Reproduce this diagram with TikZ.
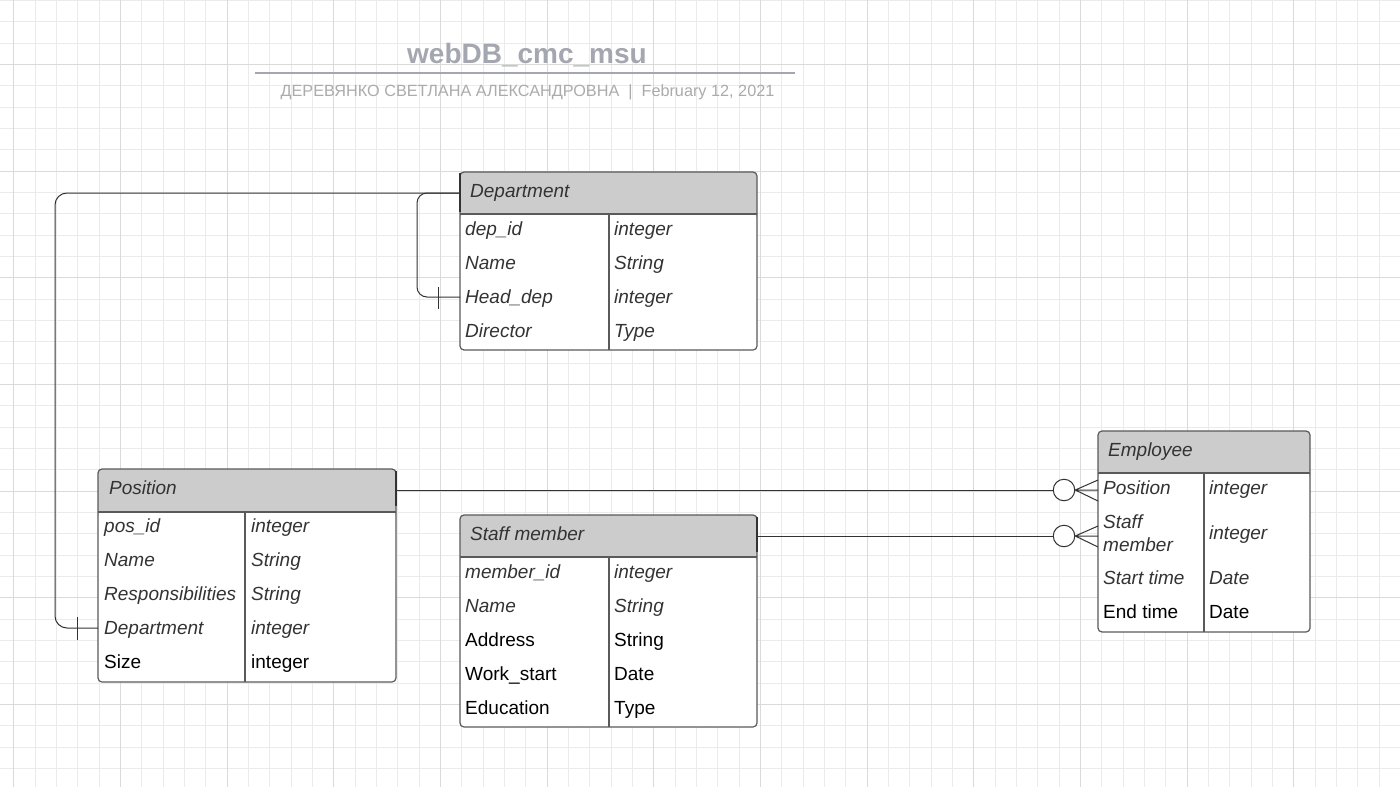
\documentclass[tikz,border=0pt]{standalone}
\usepackage{fontspec}
\setmainfont{Liberation Sans}
\definecolor{gridminor}{HTML}{EBEBEB}
\definecolor{gridmajor}{HTML}{DADADA}
\definecolor{headgray}{HTML}{CCCCCC}
\definecolor{framegray}{HTML}{5A5A5A}
\definecolor{txtgray}{HTML}{333333}
\definecolor{titlegray}{HTML}{A4A7AF}
\definecolor{subgray}{HTML}{ABABAB}
\tikzset{
	fld/.style={anchor=west, inner sep=0pt, text height=13.6pt, text depth=0pt, font=\fontsize{19}{23}\selectfont\itshape, text=txtgray},
	fldr/.style={fld, font=\fontsize{19}{23}\selectfont, text=black},
	frame/.style={draw=framegray, line width=1.2pt, rounded corners=4pt},
	conn/.style={draw=txtgray, line width=1pt},
	zero/.style={circle, draw=txtgray, fill=white, line width=1pt, minimum size=21.5pt, inner sep=0pt},
	endbar/.style={draw=txtgray, line width=2.2pt},
}
\begin{document}
\begin{tikzpicture}[x=1pt, y=-1pt]
	\useasboundingbox (0,0) rectangle (1400,787);
	\fill[white] (0,0) rectangle (1400,787);
	% grid
	\foreach \i in {0,...,65} \draw[gridminor, line width=1pt] ({round(13.333+21.333*\i)+0.5},0) -- ({round(13.333+21.333*\i)+0.5},787);
	\foreach \i in {0,...,36} \draw[gridminor, line width=1pt] (0,{round(21.333*\i)+0.5}) -- (1400,{round(21.333*\i)+0.5});
	\foreach \i in {0,...,13} \draw[gridmajor, line width=1pt] ({round(13.333+106.667*\i)+0.5},0) -- ({round(13.333+106.667*\i)+0.5},787);
	\foreach \i in {0,...,6} \draw[gridmajor, line width=1pt] (0,{round(64+106.667*\i)+0.5}) -- (1400,{round(64+106.667*\i)+0.5});

	% title
	\node[anchor=base, inner sep=0pt, font=\fontsize{28}{30}\selectfont\bfseries, text=titlegray] (title) at (527,63) {webDB\_cmc\_msu};
	\draw[titlegray, line width=2pt] (255,73) -- (795,73);
	\node[anchor=base, inner sep=0pt, font=\fontsize{16.25}{18}\selectfont, text=subgray] (sub) at (527.5,96) {ДЕРЕВЯНКО СВЕТЛАНА АЛЕКСАНДРОВНА\hspace{9pt}|\hspace{9pt}February 12, 2021};

	% Department
	\fill[white, rounded corners=4pt] (460,172) rectangle (757,350);
	\fill[headgray, rounded corners=4pt] (460,172) rectangle (757,220);
	\fill[white] (461,214) rectangle (756,222);
	\draw[frame] (460,172) rectangle (757,350);
	\draw[framegray, line width=1.2pt] (460,214) -- (757,214) (609,214) -- (609,350);
	\node[fld] (dep) at (470,191) {Department};
	\node[fld] (dep1) at (465,229) {dep\_id};
	\node[fld] (dep1t) at (614,229) {integer};
	\node[fld] (dep2) at (465,263) {Name};
	\node[fld] (dep2t) at (614,263) {String};
	\node[fld] (dep3) at (465,297) {Head\_dep};
	\node[fld] (dep3t) at (614,297) {integer};
	\node[fld] (dep4) at (465,331) {Director};
	\node[fld] (dep4t) at (614,331) {Type};

	% Position
	\fill[white, rounded corners=4pt] (98,469) rectangle (396,682);
	\fill[headgray, rounded corners=4pt] (98,469) rectangle (396,518);
	\fill[white] (99,512) rectangle (395,520);
	\draw[frame] (98,469) rectangle (396,682);
	\draw[framegray, line width=1.2pt] (98,512) -- (396,512) (245,512) -- (245,682);
	\node[fld] (pos) at (109,488) {Position};
	\node[fld] (pos1) at (104,526) {pos\_id};
	\node[fld] (pos1t) at (251,526) {integer};
	\node[fld] (pos2) at (104,560) {Name};
	\node[fld] (pos2t) at (251,560) {String};
	\node[fld] (pos3) at (104,594) {Responsibilities};
	\node[fld] (pos3t) at (251,594) {String};
	\node[fld] (pos4) at (104,628) {Department};
	\node[fld] (pos4t) at (251,628) {integer};
	\node[fldr] (pos5) at (104,662) {Size};
	\node[fldr] (pos5t) at (251,662) {integer};

	% Staff member
	\fill[white, rounded corners=4pt] (460,515) rectangle (757,727);
	\fill[headgray, rounded corners=4pt] (460,515) rectangle (757,563);
	\fill[white] (461,557) rectangle (756,565);
	\draw[frame] (460,515) rectangle (757,727);
	\draw[framegray, line width=1.2pt] (460,557) -- (757,557) (609,557) -- (609,727);
	\node[fld] (stf) at (470,534) {Staff member};
	\node[fld] (stf1) at (465,572) {member\_id};
	\node[fld] (stf1t) at (614,572) {integer};
	\node[fld] (stf2) at (465,606) {Name};
	\node[fld] (stf2t) at (614,606) {String};
	\node[fldr] (stf3) at (465,640) {Address};
	\node[fldr] (stf3t) at (614,640) {String};
	\node[fldr] (stf4) at (465,674) {Work\_start};
	\node[fldr] (stf4t) at (614,674) {Date};
	\node[fldr] (stf5) at (465,708) {Education};
	\node[fldr] (stf5t) at (614,708) {Type};

	% Employee
	\fill[white, rounded corners=4pt] (1098,431) rectangle (1310,632);
	\fill[headgray, rounded corners=4pt] (1098,431) rectangle (1310,479);
	\fill[white] (1099,473) rectangle (1309,481);
	\draw[frame] (1098,431) rectangle (1310,632);
	\draw[framegray, line width=1.2pt] (1098,473) -- (1310,473) (1204,473) -- (1204,632);
	\node[fld] (emp) at (1108,450) {Employee};
	\node[fld] (emp1) at (1103,488) {Position};
	\node[fld] (emp1t) at (1209,488) {integer};
	\node[anchor=west, inner sep=0pt, align=left, font=\fontsize{19}{23}\selectfont\itshape, text=txtgray] (emp2) at (1103,533) {Staff\\member};
	\node[fld] (emp2t) at (1209,533) {integer};
	\node[fld] (emp3) at (1103,578) {Start time};
	\node[fld] (emp3t) at (1209,578) {Date};
	\node[fldr] (emp4) at (1103,612) {End time};
	\node[fldr] (emp4t) at (1209,612) {Date};

	% connectors
	\coordinate (dephd) at (460,193);
	\coordinate (loopa) at (55,628);
	\coordinate (posdep) at (98,628);
	\coordinate (loopb) at (417,297);
	\coordinate (dephead) at (460,297);
	\draw[conn, rounded corners=12pt] (dephd) -| (loopa) -- (posdep);
	\draw[conn, rounded corners=10pt] (dephd) -| (loopb) -- (dephead);
	\draw[conn] (77,617) -- (77,640);
	\draw[conn] (438,287) -- (438,309);
	\draw[endbar] (460,173) -- (460,212);

	\coordinate (posrt) at (396,490);
	\coordinate (emppos) at (1098,490);
	\node[zero] (z1) at (1064,490) {};
	\draw[conn] (posrt) -- (z1);
	\draw[conn] (z1.east) -- (1098,480) (z1.east) -- (emppos) (z1.east) -- (1098,501);
	\draw[endbar] (396,471) -- (396,506);

	\coordinate (stfrt) at (757,536);
	\coordinate (empstf) at (1098,536);
	\node[zero] (z2) at (1064,536) {};
	\draw[conn] (stfrt) -- (z2);
	\draw[conn] (z2.east) -- (1098,526) (z2.east) -- (empstf) (z2.east) -- (1098,547);
	\draw[endbar] (757,517) -- (757,552);
\end{tikzpicture}
\end{document}
